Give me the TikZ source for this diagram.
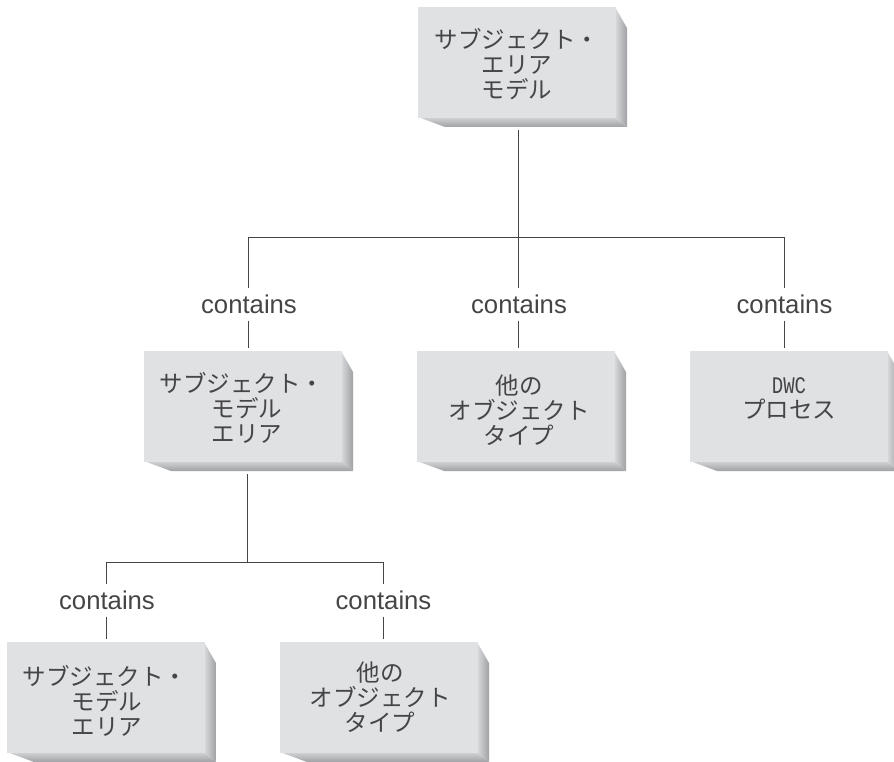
\documentclass[tikz,border=0pt]{standalone}
\usepackage{fontspec}
\newfontfamily\jpfont{Noto Sans CJK JP}
\newfontfamily\lblfont{Liberation Sans}
\newfontfamily\monofont{Liberation Mono}
\definecolor{boxfront}{HTML}{E0E1E3}
\definecolor{boxside}{HTML}{9FA1A4}
\definecolor{inkc}{HTML}{454547}
\tikzset{
  front/.style={fill=boxfront,draw=none,minimum width=198pt,minimum height=111pt,anchor=north west,inner sep=0pt,outer sep=3pt},
  txt/.style={anchor=north,align=center,text=inkc,font=\jpfont\fontsize{23.5}{25}\selectfont,inner sep=0pt},
  lbl/.style={text=inkc,font=\lblfont\fontsize{25.7}{28}\selectfont,inner sep=0pt,minimum height=32pt,minimum width=96pt},
  conn/.style={draw=inkc,line width=0.9pt},
}
% name, x, y, text, text centre offset, text top offset
\newcommand{\bx}[6]{%
  \shade[left color=boxfront!90!boxside,right color=boxside] (#2+197,#3) -- (#2+209,#3+21) -- (#2+209,#3+120) -- (#2+197,#3+110) -- cycle;
  \shade[top color=boxfront!80!boxside,bottom color=boxside] (#2,#3+110) -- (#2+27,#3+120) -- (#2+209,#3+120) -- (#2+197,#3+110) -- cycle;
  \node[front] (#1) at (#2-3,#3-3) {};
  \node[txt] (#1t) at (#2+#5,#3+#6) {#4};
}
\begin{document}
\begin{tikzpicture}[x=1pt,y=-1pt]
\useasboundingbox (0,0) rectangle (894,762);
\clip (0,0) rectangle (894,762);
\bx{a}{418}{7}{サブジェクト・\\エリア\\モデル}{99}{21}
\bx{b}{144}{351}{サブジェクト・\hspace*{10pt}\\モデル\\エリア}{103}{21}
\bx{c}{417}{351}{他の\\オブジェクト\\タイプ}{102}{24}
\bx{d}{690}{351}{\scalebox{1}[1.25]{\monofont\fontsize{19}{25}\selectfont DWC}\\プロセス}{99}{26}
\bx{e}{7}{642}{サブジェクト・\hspace*{4pt}\\モデル\\エリア}{100}{23}
\bx{f}{280}{642}{他の\\オブジェクト\\タイプ}{100}{20}

\node[lbl] (lb) at (249,304.5) {contains};
\node[lbl] (lc) at (519,304.5) {contains};
\node[lbl] (ld) at (784.5,304.5) {contains};
\node[lbl] (le) at (107,600.5) {contains};
\node[lbl] (lf) at (383.5,600.5) {contains};

\coordinate (j1) at (518,237);
\coordinate (j1l) at (248,237);
\coordinate (j1r) at (784,237);
\coordinate (j2) at (247,562);
\coordinate (j2l) at (106,562);
\coordinate (j2r) at (383,562);
\coordinate (aout) at (518,130);
\coordinate (bout) at (247,474);

\draw[conn] (aout) -- (j1);
\draw[conn] (j1l) -- (j1r);
\draw[conn] (j1l) -- (j1l |- lb.north);
\draw[conn] (j1) -- (j1 |- lc.north);
\draw[conn] (j1r) -- (j1r |- ld.north);
\draw[conn] (j1l |- lb.south) -- (j1l |- b.north);
\draw[conn] (j1 |- lc.south) -- (j1 |- c.north);
\draw[conn] (j1r |- ld.south) -- (j1r |- d.north);
\draw[conn] (bout) -- (j2);
\draw[conn] (j2l) -- (j2r);
\draw[conn] (j2l) -- (j2l |- le.north);
\draw[conn] (j2r) -- (j2r |- lf.north);
\draw[conn] (j2l |- le.south) -- (j2l |- e.north);
\draw[conn] (j2r |- lf.south) -- (j2r |- f.north);
\end{tikzpicture}
\end{document}
